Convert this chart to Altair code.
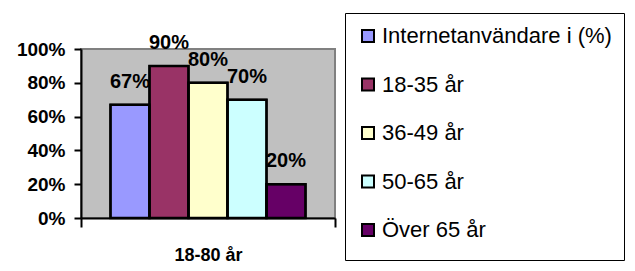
import altair as alt
import pandas as pd

category = ["18-80 år"]
series = ["Internetanvändare i (%)", "18-35 år", "36-49 år", "50-65 år", "Över 65 år"]
values = [0.67, 0.90, 0.80, 0.70, 0.20]
colors = ["#9999FF", "#993366", "#FFFFCC", "#CCFFFF", "#660066"]
y_ticks = [0, 0.2, 0.4, 0.6, 0.8, 1.0]

df = pd.DataFrame({"cat": category * len(series), "series": series, "value": values})

FONT = "Liberation Sans"

x_enc = alt.X(
    "cat:N",
    scale=alt.Scale(paddingInner=0, paddingOuter=0),
    axis=alt.Axis(
        title=None, labelAngle=0, tickBand="extent", tickSize=9, tickWidth=2,
        tickColor="black", domainColor="black", domainWidth=2,
        labelFont=FONT, labelFontSize=18, labelFontWeight="bold",
        labelColor="black", labelPadding=19,
    ),
)
xo_enc = alt.XOffset(
    "series:N", sort=series,
    scale=alt.Scale(domain=series, paddingInner=0, paddingOuter=0.756),
)
y_enc = alt.Y(
    "value:Q",
    scale=alt.Scale(domain=[0, 1], nice=False),
    axis=alt.Axis(
        title=None, values=y_ticks, format=".0%", grid=False,
        domainColor="black", domainWidth=2, tickColor="black", tickWidth=2,
        tickSize=7, labelFont=FONT, labelFontSize=19, labelFontWeight="bold",
        labelColor="black", labelPadding=9,
    ),
)

bars = alt.Chart(df).mark_bar(stroke="black", strokeWidth=2, strokeOpacity=1).encode(
    x=x_enc,
    xOffset=xo_enc,
    y=y_enc,
    color=alt.Color(
        "series:N", sort=series,
        scale=alt.Scale(domain=series, range=colors),
        legend=alt.Legend(
            orient="none", legendX=264, legendY=-36,
            title=" ", titleOrient="bottom", titleFontSize=1, titlePadding=6,
            symbolType="square", symbolSize=144, symbolStrokeColor="black",
            symbolStrokeWidth=2, symbolOpacity=1,
            labelFont=FONT, labelFontSize=22, labelColor="black",
            labelLimit=500, labelOffset=3, rowPadding=26.5,
            padding=12, strokeColor="black", fillColor="white",
        ),
    ),
)

outlines = alt.Chart(df).mark_bar(
    filled=False, fillOpacity=0, stroke="black", strokeWidth=2.5, strokeOpacity=1
).encode(
    x=x_enc,
    xOffset=xo_enc,
    y=y_enc,
)

labels = alt.Chart(df).mark_text(
    font=FONT, fontSize=20, fontWeight="bold", color="black",
    baseline="alphabetic", align="center", dy=-17,
).encode(
    x=x_enc,
    xOffset=xo_enc,
    y=y_enc,
    text=alt.Text("value:Q", format=".0%"),
)

chart = (
    alt.layer(bars, outlines, labels)
    .properties(
        width=254, height=169,
        autosize=alt.AutoSizeParams(type="none"),
        padding={"left": 73, "top": 41, "right": 292, "bottom": 45},
        background="white",
    )
    .configure_view(fill="#C0C0C0", stroke="#808080", strokeWidth=2)
)

chart.save("out.html", embed_options={"renderer": "svg", "actions": False})
